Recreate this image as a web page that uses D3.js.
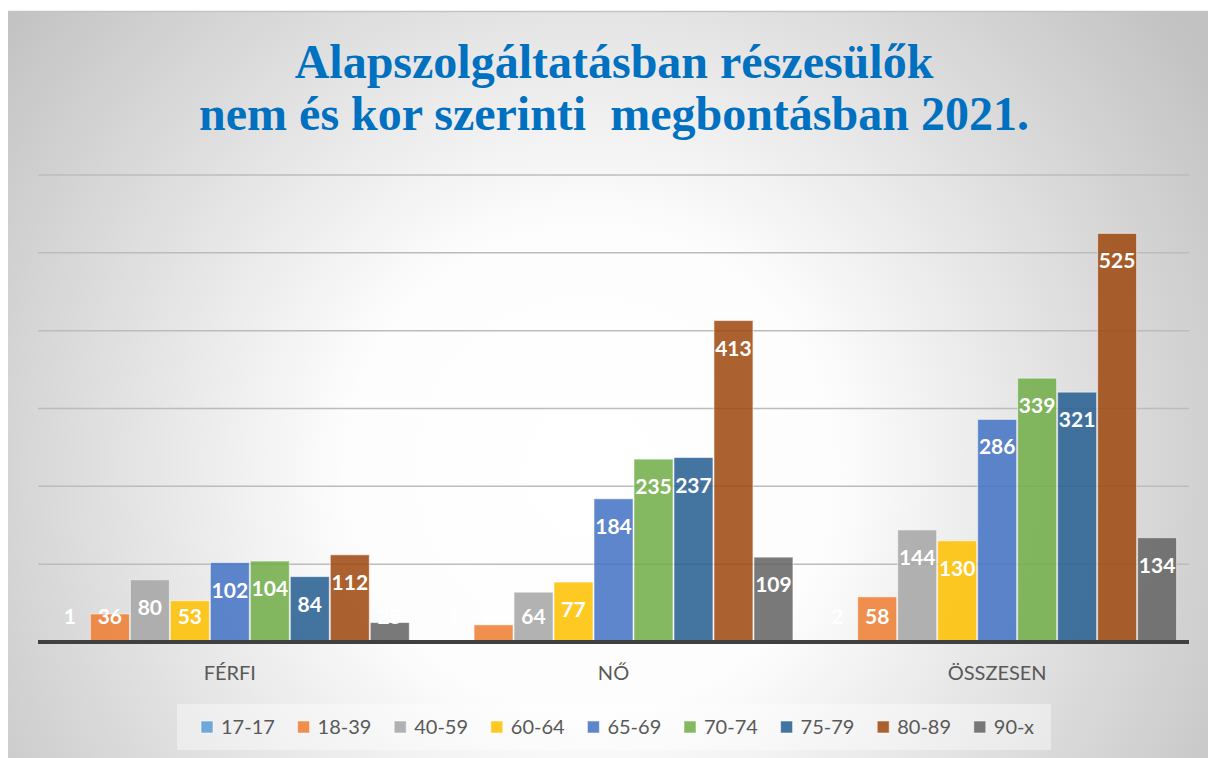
<!DOCTYPE html>
<html>
<head>
<meta charset="utf-8">
<script src="https://cdn.jsdelivr.net/npm/d3@7"></script>
<style>
  body { margin: 0; background: #ffffff; }
  svg { display: block; }
</style>
</head>
<body>
<svg id="chart" width="1208" height="758"></svg>
<script>
// categories and series
var categories = ["FÉRFI", "NŐ", "ÖSSZESEN"];
var ageGroups = ["17-17", "18-39", "40-59", "60-64", "65-69", "70-74", "75-79", "80-89", "90-x"];
var ferfi = [1, 36, 80, 53, 102, 104, 84, 112, 25];
var no = [1, 22, 64, 77, 184, 235, 237, 413, 109];
var osszesen = [2, 58, 144, 130, 286, 339, 321, 525, 134];
var yTicks = [100, 200, 300, 400, 500, 600];
var titleLines = ["Alapszolgáltatásban részesülők", "nem és kor szerinti  megbontásban 2021."];

var colorList = ["#5B9BD5", "#ED7D31", "#A5A5A5", "#FFC000", "#4472C4",
  "#70AD47", "#255E91", "#9E480E", "#636363"];

var seriesByCat = [ferfi, no, osszesen];

var svg = d3.select("svg#chart");

// background gradient of the chart frame
var defs = svg.append("defs");
var grad = defs.append("radialGradient")
    .attr("id", "bg")
    .attr("gradientUnits", "userSpaceOnUse")
    .attr("cx", 590).attr("cy", 470).attr("r", 740);
grad.append("stop").attr("offset", "0").attr("stop-color", "#ffffff");
grad.append("stop").attr("offset", "0.33").attr("stop-color", "#fdfdfd");
grad.append("stop").attr("offset", "1").attr("stop-color", "#c2c2c2");

svg.append("rect")
    .attr("x", 8).attr("y", 11)
    .attr("width", 1200).attr("height", 747)
    .attr("fill", "url(#bg)");
svg.append("line")
    .attr("x1", 8).attr("x2", 1208)
    .attr("y1", 11.5).attr("y2", 11.5)
    .attr("stroke", "#c4c4c4")
    .attr("stroke-width", 1.5);

// title
svg.append("text")
    .attr("x", 614)
    .attr("text-anchor", "middle")
    .style("font-family", "'Liberation Serif', 'Times New Roman', serif")
    .style("font-weight", "bold")
    .style("font-size", "48px")
    .style("white-space", "pre")
    .attr("fill", "#0070C0")
    .selectAll("tspan")
    .data(titleLines)
    .enter().append("tspan")
      .attr("x", 614)
      .attr("y", function(d, i) { return 78 + i * 52; })
      .text(function(d) { return d; });

// scales
var x0 = d3.scaleBand()
    .domain(categories)
    .range([38, 1189])
    .paddingInner(0.062)
    .paddingOuter(0.031);

var x1 = d3.scaleBand()
    .domain(ageGroups)
    .range([0, x0.bandwidth()]);

var y = d3.scaleLinear()
    .domain([0, 600])
    .range([642, 175]);

// gridlines
svg.append("g")
    .selectAll("line")
    .data(yTicks)
    .enter().append("line")
      .attr("x1", 38).attr("x2", 1189)
      .attr("y1", function(d) { return y(d); })
      .attr("y2", function(d) { return y(d); })
      .attr("stroke", "#bcbcbc")
      .attr("stroke-width", 1.5);

// bars
var groups = svg.append("g")
    .selectAll("g")
    .data(categories)
    .enter().append("g")
      .attr("transform", function(d) { return "translate(" + x0(d) + ",0)"; });

var cells = groups.selectAll("g")
    .data(function(d, ci) {
      return ageGroups.map(function(a, i) { return {age: a, value: seriesByCat[ci][i], idx: i}; });
    })
    .enter().append("g");

cells.append("rect")
    .attr("x", function(d) { return x1(d.age) + 0.5; })
    .attr("y", function(d) { return y(d.value); })
    .attr("width", x1.bandwidth() - 1)
    .attr("height", function(d) { return y(0) - y(d.value); })
    .attr("fill", function(d) { return colorList[d.idx]; })
    .attr("fill-opacity", 0.86)
    .attr("stroke", "rgba(255,255,255,0.55)")
    .attr("stroke-width", 1);

// data labels, inside end, kept above the axis
cells.append("text")
    .attr("x", function(d) { return x1(d.age) + x1.bandwidth() / 2; })
    .attr("y", function(d) { return Math.min(y(d.value) + 35, y(0) - 18); })
    .attr("text-anchor", "middle")
    .style("font-family", "Lato, 'Open Sans', sans-serif")
    .style("font-weight", "bold")
    .style("font-size", "21px")
    .attr("fill", "#ffffff")
    .text(function(d) { return d.value; });

// axis line and category labels
svg.append("line")
    .attr("x1", 38).attr("x2", 1189)
    .attr("y1", y(0)).attr("y2", y(0))
    .attr("stroke", "#404040")
    .attr("stroke-width", 4);

svg.append("g")
    .selectAll("text")
    .data(categories)
    .enter().append("text")
      .attr("x", function(d) { return x0(d) + x0.bandwidth() / 2; })
      .attr("y", 680)
      .attr("text-anchor", "middle")
      .style("font-family", "Lato, 'Open Sans', sans-serif")
      .style("font-size", "20px")
      .attr("fill", "#595959")
      .text(function(d) { return d; });

// legend
var legend = svg.append("g");
legend.append("rect")
    .attr("x", 177).attr("y", 704)
    .attr("width", 874).attr("height", 46)
    .attr("fill", "#ffffff")
    .attr("fill-opacity", 0.4);

var item = legend.selectAll("g.item")
    .data(ageGroups)
    .enter().append("g")
      .attr("class", "item")
      .attr("transform", function(d, i) { return "translate(" + (201 + i * 96.6) + ",721)"; });

item.append("rect")
    .attr("width", 12).attr("height", 12)
    .attr("fill", function(d, i) { return colorList[i]; })
    .attr("fill-opacity", 0.86)
    .attr("stroke", "rgba(255,255,255,0.55)");

item.append("text")
    .attr("x", 20)
    .attr("y", 13)
    .style("font-family", "Lato, 'Open Sans', sans-serif")
    .style("font-size", "20px")
    .attr("fill", "#595959")
    .text(function(d) { return d; });
</script>
</body>
</html>
